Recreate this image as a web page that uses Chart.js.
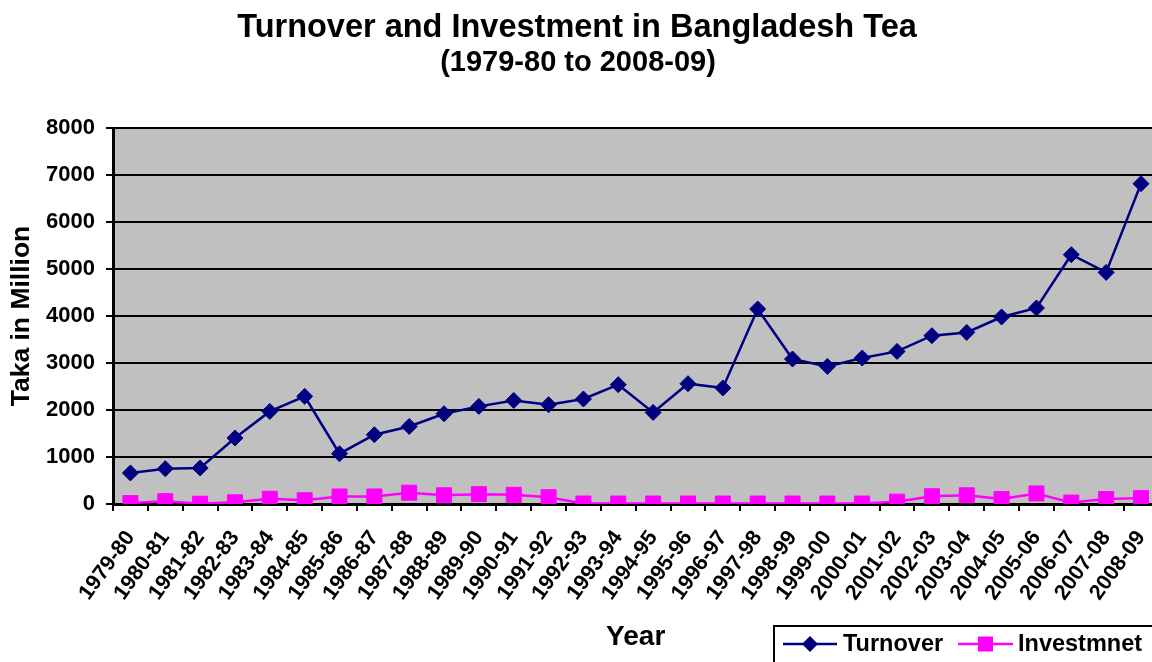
<!DOCTYPE html>
<html>
<head>
<meta charset="utf-8">
<script src="https://cdn.jsdelivr.net/npm/chart.js@4/dist/chart.umd.min.js"></script>
<style>
html, body { margin: 0; padding: 0; overflow: hidden; background: #fff; }
#wrap { width: 1152px; height: 662px; overflow: hidden; }
canvas { display: block; }
</style>
</head>
<body>
<div id="wrap"><canvas id="grafico" width="1170" height="662"></canvas></div>
<script>
const anos = ['1979-80','1980-81','1981-82','1982-83','1983-84','1984-85','1985-86','1986-87','1987-88','1988-89',
    '1989-90','1990-91','1991-92','1992-93','1993-94','1994-95','1995-96','1996-97','1997-98','1998-99',
    '1999-00','2000-01','2001-02','2002-03','2003-04','2004-05','2005-06','2006-07','2007-08','2008-09']

const turnover = [660, 751, 766, 1404, 1970, 2290, 1070, 1474, 1650, 1921,
    2077, 2204, 2113, 2234, 2538, 1949, 2560, 2468, 4149, 3085,
    2928, 3106, 3247, 3581, 3651, 3979, 4170, 5304, 4928, 6815]

const investment = [20, 60, 5, 35, 110, 80, 160, 160, 240, 185,
    210, 195, 145, 10, 10, 10, 10, 10, 10, 10,
    10, 10, 50, 165, 185, 105, 225, 30, 105, 125]

const titulo = 'Turnover and Investment in Bangladesh Tea'
const subtitulo = '(1979-80 to 2008-09)'
const tituloY = 'Taka in Million'
const tituloX = 'Year'

const fonte = '"Liberation Sans", Arial, sans-serif'

// fundo cinza da area do grafico
const fundoPlugin = {
    id: 'fundo',
    beforeDraw(chart) {
        const {ctx, chartArea} = chart
        ctx.save()
        ctx.fillStyle = '#C0C0C0'
        ctx.fillRect(chartArea.left, chartArea.top, chartArea.right - chartArea.left, chartArea.bottom - chartArea.top)
        ctx.restore()
    }
}

// titulo e legenda no estilo do Excel
const textosPlugin = {
    id: 'textos',
    afterDraw(chart) {
        const ctx = chart.ctx
        ctx.save()
        ctx.fillStyle = '#000'
        ctx.textAlign = 'center'
        ctx.textBaseline = 'alphabetic'
        ctx.font = 'bold 32.5px ' + fonte
        ctx.fillText(titulo, 577, 37)
        ctx.font = 'bold 29px ' + fonte
        ctx.fillText(subtitulo, 578, 71)

        // caixa da legenda
        ctx.strokeStyle = '#000'
        ctx.lineWidth = 2
        ctx.strokeRect(774, 626, 500, 100)

        const ds = chart.data.datasets
        const cy = 644
        const itens = [
            {x1: 783, x2: 837, texto: 843, ds: ds[0]},
            {x1: 958, x2: 1013, texto: 1018, ds: ds[1]}
        ]
        ctx.font = 'bold 23.5px ' + fonte
        ctx.textAlign = 'left'
        ctx.textBaseline = 'middle'
        itens.forEach(it => {
            ctx.strokeStyle = it.ds.borderColor
            ctx.lineWidth = 2.5
            ctx.beginPath()
            ctx.moveTo(it.x1, cy)
            ctx.lineTo(it.x2, cy)
            ctx.stroke()
            const mx = (it.x1 + it.x2) / 2
            ctx.fillStyle = it.ds.pointBackgroundColor
            ctx.beginPath()
            if (it.ds.pointStyle === 'rectRot') {
                const r = it.ds.pointRadius
                ctx.moveTo(mx - r, cy)
                ctx.lineTo(mx, cy - r)
                ctx.lineTo(mx + r, cy)
                ctx.lineTo(mx, cy + r)
                ctx.closePath()
            } else {
                const s = it.ds.pointRadius * Math.SQRT1_2
                ctx.rect(mx - s, cy - s, 2 * s, 2 * s)
            }
            ctx.fill()
            ctx.fillStyle = '#000'
            ctx.fillText(it.ds.label, it.texto, cy + 1)
        })
        ctx.restore()
    }
}

const dados = {
    labels: anos,
    datasets: [{
        label: 'Turnover',
        data: turnover,
        borderColor: '#000080',
        backgroundColor: '#000080',
        pointBackgroundColor: '#000080',
        pointBorderColor: '#000080',
        pointStyle: 'rectRot',
        pointRadius: 8,
        pointBorderWidth: 1,
        borderWidth: 2.5,
        tension: 0
    }, {
        label: 'Investmnet',
        data: investment,
        borderColor: '#FF00FF',
        backgroundColor: '#FF00FF',
        pointBackgroundColor: '#FF00FF',
        pointBorderColor: '#FF00FF',
        pointStyle: 'rect',
        pointRadius: 10.6,
        pointBorderWidth: 1,
        borderWidth: 2.5,
        tension: 0
    }]
}

const config = {
    type: 'line',
    data: dados,
    options: {
        responsive: false,
        animation: false,
        devicePixelRatio: 1,
        layout: { padding: { top: 128, right: 7, left: 0, bottom: 0 } },
        plugins: {
            legend: { display: false },
            title: { display: false },
            tooltip: { enabled: false }
        },
        scales: {
            x: {
                type: 'category',
                offset: true,
                grid: {
                    offset: true,
                    drawOnChartArea: false,
                    drawTicks: true,
                    tickLength: 7,
                    color: '#000',
                    lineWidth: 2
                },
                border: { display: true, color: '#000', width: 3 },
                ticks: {
                    autoSkip: false,
                    maxRotation: 54,
                    minRotation: 54,
                    padding: 15,
                    color: '#000',
                    font: { family: fonte, size: 21.5, weight: 'bold' }
                },
                title: {
                    display: true,
                    text: tituloX,
                    color: '#000',
                    font: { family: fonte, size: 28, weight: 'bold', lineHeight: 1.2 },
                    padding: { top: 0, bottom: 8 }
                },
                afterFit(scale) {
                    scale.height = 158
                    scale.paddingLeft = 0
                    scale.paddingRight = 0
                }
            },
            y: {
                min: 0,
                max: 8000,
                ticks: {
                    stepSize: 1000,
                    padding: 11,
                    color: '#000',
                    font: { family: fonte, size: 22, weight: 'bold' },
                    callback: v => String(v)
                },
                grid: {
                    color: '#000',
                    lineWidth: 2,
                    tickLength: 7,
                    drawTicks: true
                },
                border: { display: true, color: '#000', width: 3 },
                title: {
                    display: true,
                    text: tituloY,
                    color: '#000',
                    font: { family: fonte, size: 26.5, weight: 'bold', lineHeight: 1.2 },
                    padding: { top: 6, bottom: 0 }
                },
                afterFit(scale) { scale.width = 113 }
            }
        }
    },
    plugins: [fundoPlugin, textosPlugin]
}

const meuGrafico = new Chart(document.getElementById('grafico'), config)
</script>
</body>
</html>
